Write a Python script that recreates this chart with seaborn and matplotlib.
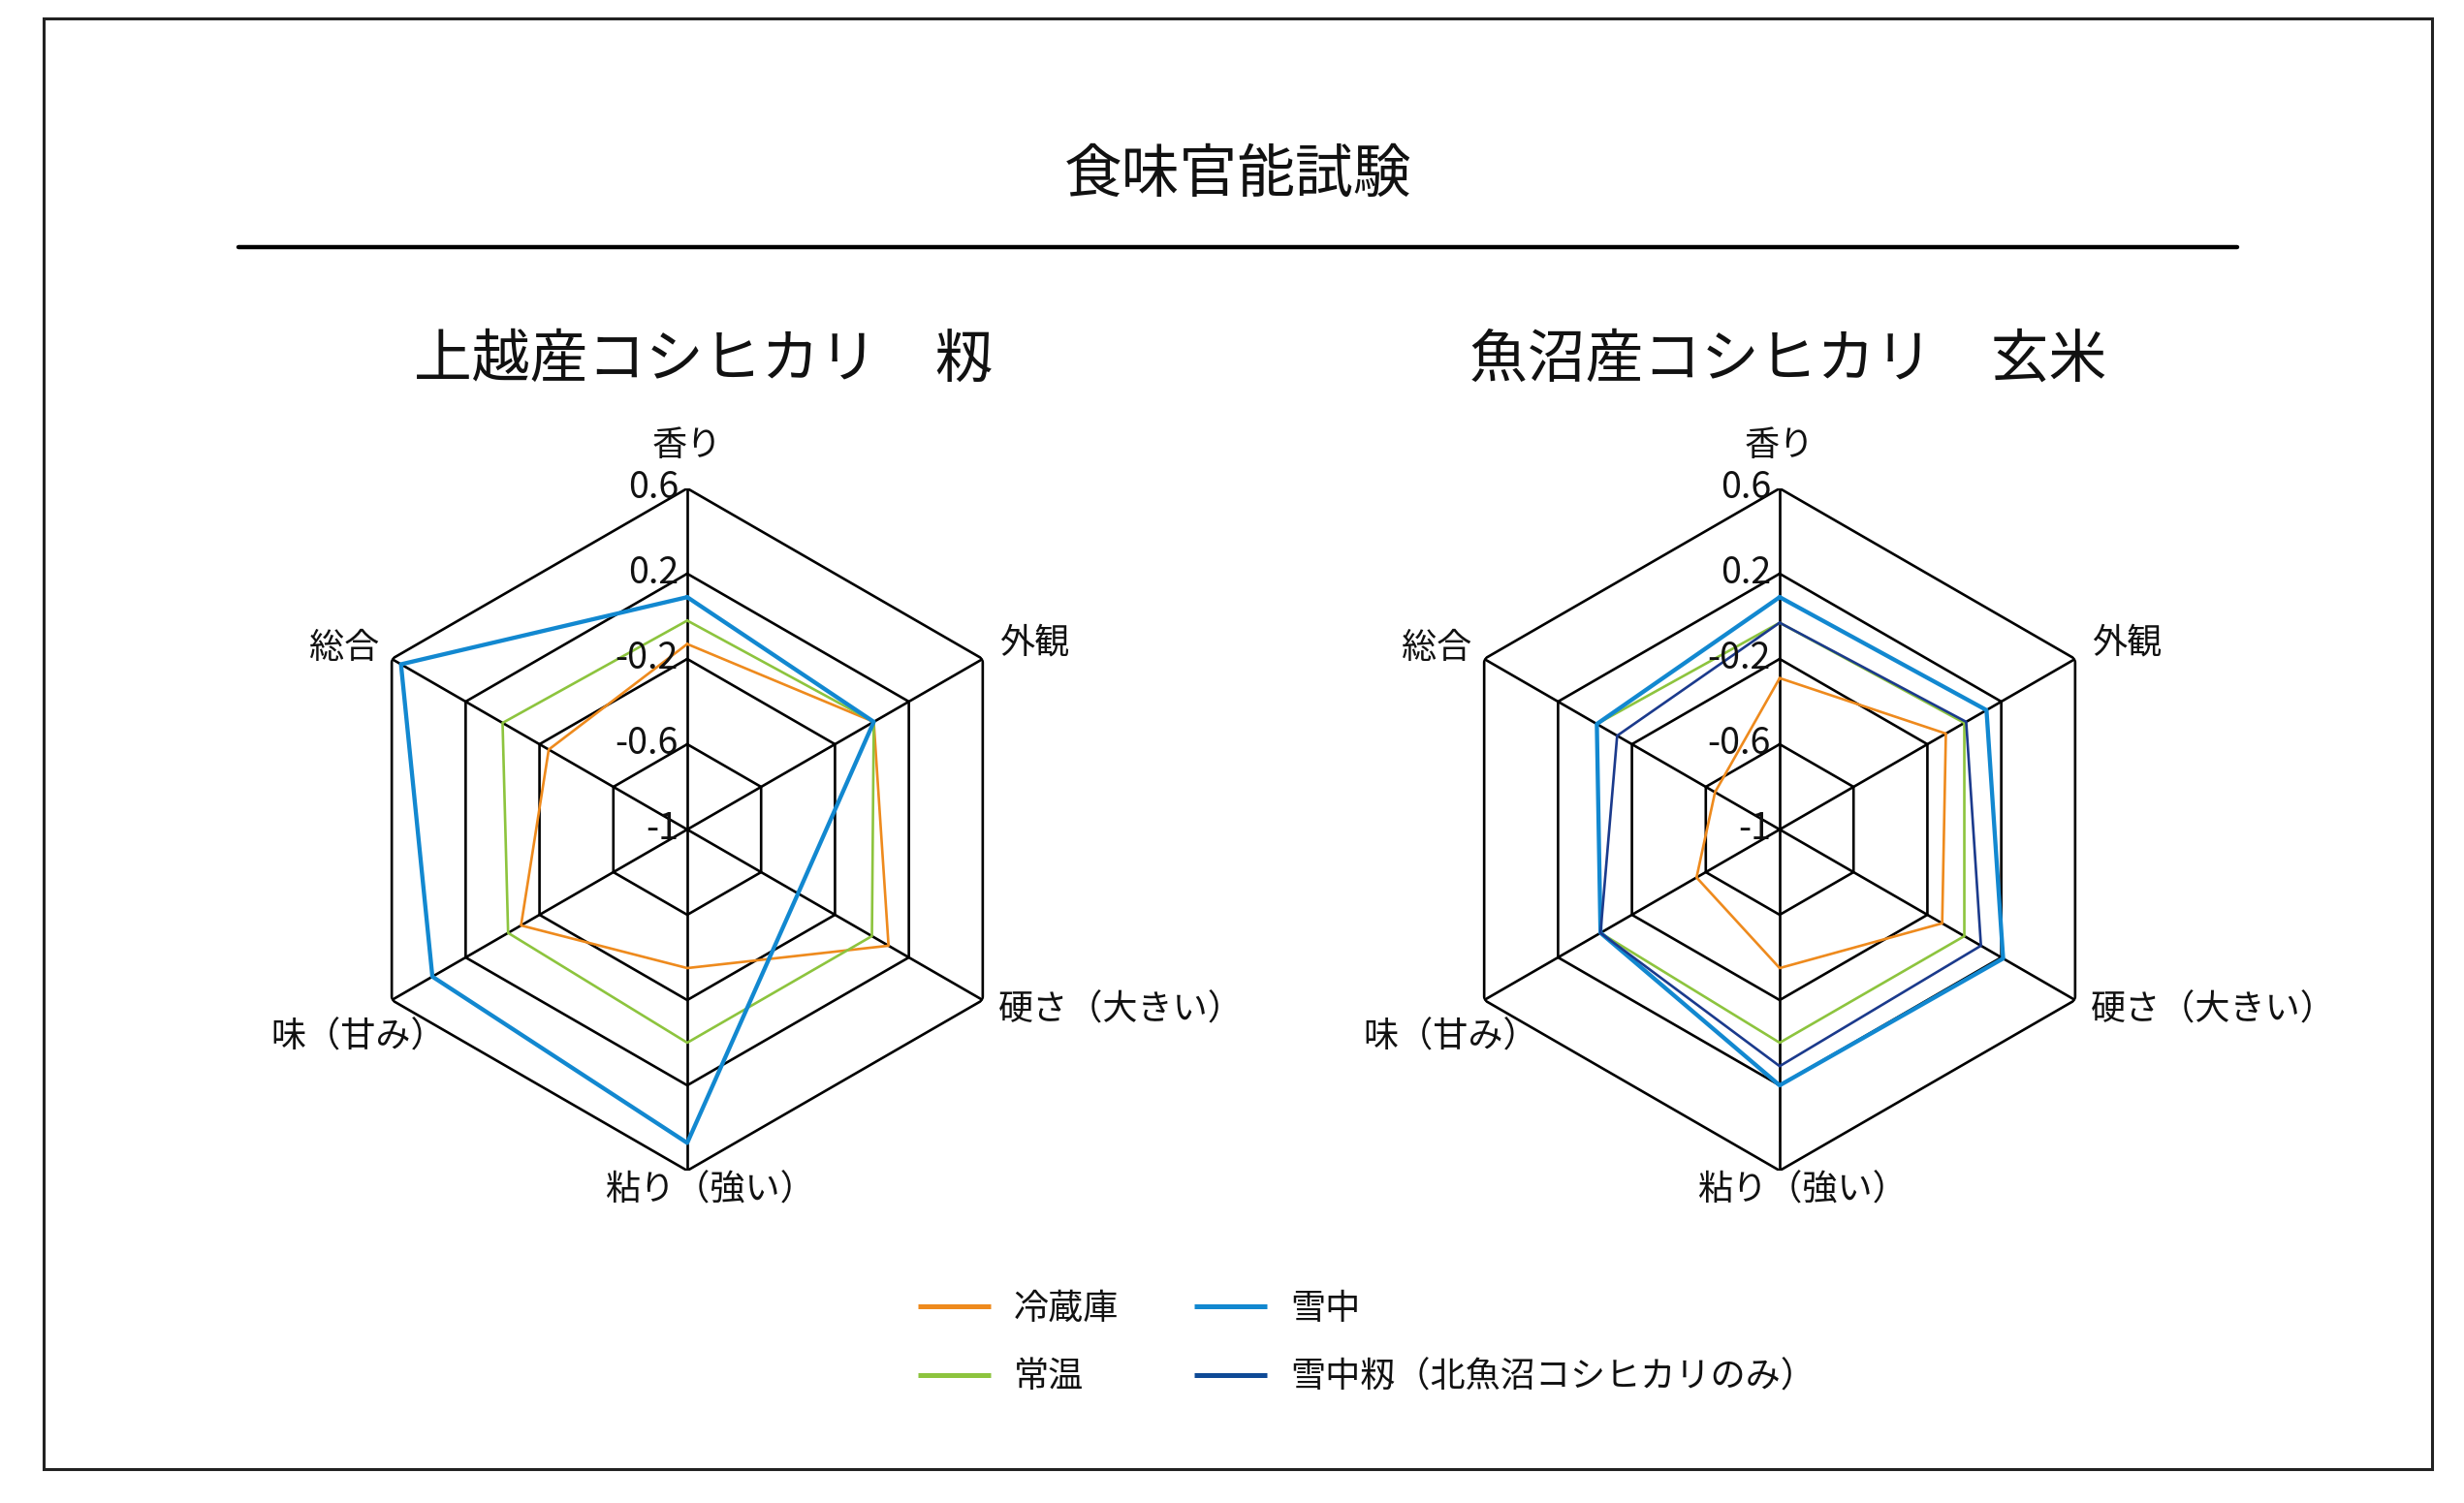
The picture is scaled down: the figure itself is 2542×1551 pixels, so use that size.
import numpy as np
import pandas as pd
import matplotlib
matplotlib.use('Agg')
import matplotlib.pyplot as plt
import seaborn as sns
from matplotlib.lines import Line2D
from matplotlib.patches import Rectangle

# ---------------- data ----------------
categories = ['香り', '外観', '硬さ（大きい）', '粘り（強い）', '味（甘み）', '総合']
series_names = ['冷蔵庫', '常温', '雪中', '雪中籾（北魚沼コシヒカリのみ）']
r_ticks = [-1, -0.6, -0.2, 0.2, 0.6]
r_tick_labels = ['-1', '-0.6', '-0.2', '0.2', '0.6']

title_main = '食味官能試験'
title_left = '上越産コシヒカリ　籾'
title_right = '魚沼産コシヒカリ　玄米'

joetsu_reizoko = [-0.13, 0.01, 0.09, -0.35, -0.10, -0.25]
joetsu_jouon = [-0.02, 0.01, 0.00, 0.00, -0.03, 0.00]
joetsu_setchu = [0.09, 0.01, -0.40, 0.47, 0.38, 0.55]

uonuma_reizoko = [-0.29, -0.10, -0.12, -0.35, -0.55, -0.65]
uonuma_jouon = [-0.03, 0.00, 0.00, 0.00, -0.03, -0.01]
uonuma_setchu = [0.09, 0.12, 0.21, 0.20, -0.03, -0.01]
uonuma_setchu_momi = [-0.03, 0.01, 0.09, 0.11, -0.03, -0.12]

# ---------------- style ----------------
colors = ['#EE8A1D', '#8DC43E', '#1288D0', '#1B3A8C']
widths = [1.9, 1.9, 3.1, 1.9]

sns.set_theme(style='white')
plt.rcParams['font.family'] = ['Noto Sans CJK JP', 'DejaVu Sans']

W, H = 2542, 1551
fig = plt.figure(figsize=(W / 100, H / 100), dpi=100)
fig.patch.set_facecolor('white')

R = 352  # radius in pixels


def axes_rect(cx, cy):
    return [(cx - R) / W, (H - cy - R) / H, 2 * R / W, 2 * R / H]


# label offsets (pixels) from outer vertex: (dx, dy, ha)
cat_offsets = [(0, 44, 'center'), (17, 17, 'left'), (16, -11, 'left'),
               (23, -21, 'center'), (-34, -39, 'center'), (-13, 11, 'right')]


def radar(ax, series_vals):
    n = len(categories)
    theta = np.linspace(0, 2 * np.pi, n + 1)
    ax.set_theta_offset(np.pi / 2)
    ax.set_theta_direction(-1)
    ax.grid(False)
    ax.set_xticks([])
    ax.set_yticks([])
    ax.spines['polar'].set_visible(False)
    ax.patch.set_alpha(0)
    for v in r_ticks[1:]:
        ax.plot(theta, [v] * (n + 1), color='black', lw=1.9, zorder=1,
                solid_joinstyle='miter')
    for t in theta[:-1]:
        ax.plot([t, t], [r_ticks[0], r_ticks[-1]], color='black', lw=1.9, zorder=1)
    for i, vals in enumerate(series_vals):
        df = pd.DataFrame({'theta': theta, 'value': list(vals) + [vals[0]]})
        sns.lineplot(data=df, x='theta', y='value', ax=ax, sort=False,
                     estimator=None, color=colors[i], linewidth=widths[i],
                     label=series_names[i], zorder=3 + i)
    ax.set_ylim(r_ticks[0], r_ticks[-1])
    ax.set_xlabel('')
    ax.set_ylabel('')
    if ax.get_legend() is not None:
        ax.get_legend().remove()
    for v, lab in zip(r_ticks, r_tick_labels):
        ax.annotate(lab, xy=(0, v), xytext=(-9, 0), textcoords='offset pixels',
                    ha='right', va='center', fontsize=27, color='#111111',
                    annotation_clip=False, zorder=10)
    for t, cat, (dx, dy, ha) in zip(theta[:-1], categories, cat_offsets):
        ax.annotate(cat, xy=(t, r_ticks[-1]), xytext=(dx, dy),
                    textcoords='offset pixels', ha=ha, va='center',
                    fontsize=26, color='#111111', annotation_clip=False)


ax1 = fig.add_axes(axes_rect(709, 856), projection='polar')
radar(ax1, [joetsu_reizoko, joetsu_jouon, joetsu_setchu])

ax2 = fig.add_axes(axes_rect(1836, 856), projection='polar')
radar(ax2, [uonuma_reizoko, uonuma_jouon, uonuma_setchu, uonuma_setchu_momi])

# titles
fig.text(1277 / W, 1 - 181 / H, title_main, ha='center', va='center',
         fontsize=43, color='#111111')
fig.text(726 / W, 1 - 372 / H, title_left, ha='center', va='center',
         fontsize=43, color='#111111')
fig.text(1845 / W, 1 - 372 / H, title_right, ha='center', va='center',
         fontsize=43, color='#111111')

# underline & border
fig.add_artist(Line2D([246 / W, 2308 / W], [1 - 254.5 / H, 1 - 254.5 / H],
                      color='black', lw=3.2, transform=fig.transFigure))
fig.add_artist(Rectangle((45 / W, 1 - 1516 / H), (2509 - 45) / W, (1516 - 19) / H,
                         fill=False, edgecolor='#222222', lw=2.2,
                         transform=fig.transFigure))

# legend (proxy handles with thicker strokes, as in the reference)
legend_colors = ['#EE8A1D', '#8DC43E', '#1288D0', '#0F4A96']
proxies = [Line2D([], [], color=c, lw=3.6, solid_capstyle='butt')
           for c in legend_colors]
leg = fig.legend(proxies, series_names, ncol=2, loc='upper left',
                 bbox_to_anchor=(947 / W, 1 - 1333 / H), frameon=False,
                 fontsize=26, handlelength=2.08, handletextpad=0.66,
                 columnspacing=2.16, labelspacing=0.95, borderpad=0,
                 borderaxespad=0)
for txt in leg.get_texts():
    txt.set_color('#111111')

fig.savefig('out.png', dpi=100, facecolor='white')
